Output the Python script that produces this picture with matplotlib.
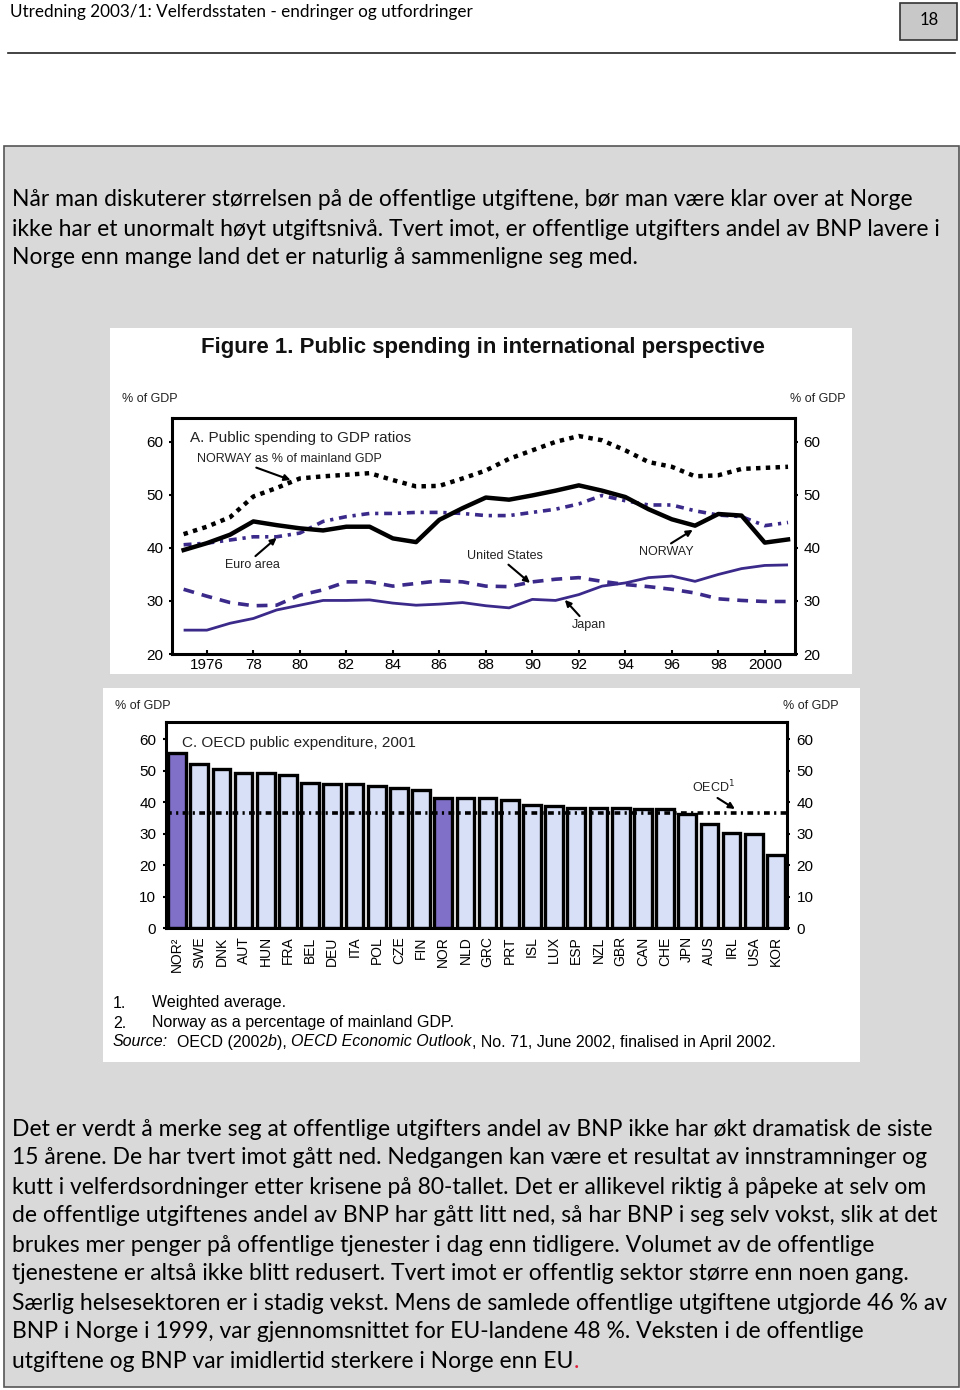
import numpy as np
import matplotlib
matplotlib.use('Agg')
import matplotlib.pyplot as plt
from matplotlib.patches import Rectangle

plt.rcParams['font.family'] = ['Liberation Sans', 'DejaVu Sans']

# --- data: panel A, public spending to GDP ratios (% of GDP) ---
years = list(range(1975, 2002))
norway_mainland = [42.6, 44.0, 45.8, 49.7, 51.3, 53.1, 53.5, 53.8, 54.1, 52.8, 51.6, 51.7, 53.1,
                   54.6, 56.8, 58.4, 60.0, 61.1, 60.3, 58.4, 56.2, 55.3, 53.5, 53.7, 54.9, 55.1, 55.3]
norway = [39.6, 40.9, 42.5, 45.0, 44.3, 43.7, 43.3, 44.0, 44.0, 41.8, 41.1, 45.3, 47.5,
          49.5, 49.1, 49.9, 50.8, 51.8, 50.8, 49.6, 47.3, 45.4, 44.2, 46.4, 46.1, 41.0, 41.6]
euro_area = [40.6, 40.9, 41.5, 42.1, 42.1, 42.8, 45.0, 45.9, 46.5, 46.5, 46.7, 46.7, 46.5,
             46.1, 46.1, 46.7, 47.3, 48.3, 49.9, 48.9, 48.1, 48.1, 47.0, 46.2, 45.9, 44.2, 44.8]
united_states = [32.2, 30.9, 29.7, 29.1, 29.2, 31.1, 32.1, 33.6, 33.6, 32.8, 33.3, 33.8, 33.6,
                 32.8, 32.7, 33.6, 34.1, 34.4, 33.7, 33.1, 32.7, 32.2, 31.5, 30.4, 30.1, 29.9, 29.9]
japan = [24.5, 24.5, 25.8, 26.7, 28.3, 29.2, 30.1, 30.1, 30.2, 29.6, 29.2, 29.4, 29.7,
         29.1, 28.7, 30.3, 30.1, 31.2, 32.8, 33.4, 34.4, 34.7, 33.7, 35.0, 36.1, 36.7, 36.8]
year_ticks = list(range(1976, 2001, 2))
year_labels = ['1976', '78', '80', '82', '84', '86', '88', '90', '92', '94', '96', '98', '2000']

# --- data: panel C, OECD public expenditure 2001 (% of GDP) ---
countries = ['NOR²', 'SWE', 'DNK', 'AUT', 'HUN', 'FRA', 'BEL', 'DEU', 'ITA', 'POL', 'CZE', 'FIN',
             'NOR', 'NLD', 'GRC', 'PRT', 'ISL', 'LUX', 'ESP', 'NZL', 'GBR', 'CAN', 'CHE', 'JPN',
             'AUS', 'IRL', 'USA', 'KOR']
spending = [55.5, 52.0, 50.4, 49.1, 49.1, 48.5, 46.1, 45.6, 45.6, 45.1, 44.3, 43.9,
            41.2, 41.2, 41.2, 40.6, 39.0, 38.6, 38.2, 38.2, 38.0, 37.8, 37.8, 36.3,
            32.9, 30.3, 29.9, 23.1]
highlight = ['NOR²', 'NOR']
oecd_avg = 36.6

# --- page text ---
header = 'Utredning 2003/1: Velferdsstaten - endringer og utfordringer'
para1 = ['Når man diskuterer størrelsen på de offentlige utgiftene, bør man være klar over at Norge',
         'ikke har et unormalt høyt utgiftsnivå. Tvert imot, er offentlige utgifters andel av BNP lavere i',
         'Norge enn mange land det er naturlig å sammenligne seg med.']
para2 = ['Det er verdt å merke seg at offentlige utgifters andel av BNP ikke har økt dramatisk de siste',
         '15 årene. De har tvert imot gått ned. Nedgangen kan være et resultat av innstramninger og',
         'kutt i velferdsordninger etter krisene på 80-tallet. Det er allikevel riktig å påpeke at selv om',
         'de offentlige utgiftenes andel av BNP har gått litt ned, så har BNP i seg selv vokst, slik at det',
         'brukes mer penger på offentlige tjenester i dag enn tidligere. Volumet av de offentlige',
         'tjenestene er altså ikke blitt redusert. Tvert imot er offentlig sektor større enn noen gang.',
         'Særlig helsesektoren er i stadig vekst. Mens de samlede offentlige utgiftene utgjorde 46 % av',
         'BNP i Norge i 1999, var gjennomsnittet for EU-landene 48 %. Veksten i de offentlige',
         'utgiftene og BNP var imidlertid sterkere i Norge enn EU']

W, H = 960, 1390
PURPLE = '#3b2a8a'
BODY_FONT = 'Lato'
BODY_SIZE = 16.5


def fx(px):
    return px / W


def fy(py):
    return 1 - py / H


def box(x0, y0, x1, y1):
    return [fx(x0), fy(y1), (x1 - x0) / W, (y1 - y0) / H]


fig = plt.figure(figsize=(W / 100, H / 100), dpi=100)
fig.patch.set_facecolor('white')

# page header
fig.text(fx(10), fy(12), header, family=BODY_FONT, fontsize=12.3, va='center', ha='left')
fig.patches.append(Rectangle((fx(900), fy(40)), 57 / W, 37 / H, transform=fig.transFigure,
                             facecolor='#c8c8c8', edgecolor='#333333', lw=1.2))
fig.text(fx(929), fy(20), '18', family=BODY_FONT, fontsize=12, va='center', ha='center')
fig.lines.append(plt.Line2D([fx(8), fx(955)], [fy(53), fy(53)], transform=fig.transFigure,
                            color='#222222', lw=1.2))

# grey frame and white figure panels (behind the axes)
fig.patches.append(Rectangle((fx(4), fy(1387)), 955 / W, 1241 / H, transform=fig.transFigure,
                             facecolor='#d9d9d9', edgecolor='#555555', lw=1.2, zorder=-3))
fig.patches.append(Rectangle((fx(110), fy(674)), 742 / W, 346 / H, transform=fig.transFigure,
                             facecolor='white', edgecolor='none', zorder=-2))
fig.patches.append(Rectangle((fx(103), fy(1062)), 757 / W, 374 / H, transform=fig.transFigure,
                             facecolor='white', edgecolor='none', zorder=-2))

for i, line in enumerate(para1):
    fig.text(fx(12), fy(200 + 29 * i), line, family=BODY_FONT, fontsize=BODY_SIZE, va='center')
last = None
for i, line in enumerate(para2):
    last = fig.text(fx(12), fy(1129 + 29 * i), line, family=BODY_FONT, fontsize=BODY_SIZE,
                    va='center')

fig.text(fx(483), fy(348), 'Figure 1. Public spending in international perspective',
         fontsize=16, fontweight='bold', ha='center', va='center', color='#111111')

# ---------------- panel A ----------------
ax = fig.add_axes(box(172, 418, 795, 654))
ax.patch.set_alpha(0)
ax.plot(years, japan, color=PURPLE, lw=2.0, solid_capstyle='butt')
ax.plot(years, united_states, color=PURPLE, lw=2.6, linestyle=(0, (3.0, 2.2)))
ax.plot(years, euro_area, color=PURPLE, lw=2.6, linestyle=(0, (2.2, 1.6, 0.9, 1.6)))
ax.plot(years, norway, color='black', lw=3.2)
ax.plot(years, norway_mainland, color='black', lw=3.2, linestyle=(0, (1.0, 1.2)))
ax.set_xlim(1974.5, 2001.3)
ax.set_ylim(20, 64.5)
ax.set_xticks(year_ticks)
ax.set_xticklabels(year_labels)
ax.set_yticks([20, 30, 40, 50, 60])
ax.tick_params(axis='x', direction='in', length=3, width=1.5, labelsize=11, pad=3)
ax.tick_params(axis='y', direction='out', length=2, width=1.5, labelsize=11, pad=4,
               right=True, labelright=True)
for s in ax.spines.values():
    s.set_linewidth(2.2)

arrow = dict(arrowstyle='-|>', color='black', lw=1.5, mutation_scale=9, shrinkA=0, shrinkB=0)
ax.text(1975.27, 60.75, 'A. Public spending to GDP ratios', fontsize=11, va='center', color='#222222')
ax.annotate('NORWAY as % of mainland GDP', xy=(1979.6, 52.8), xytext=(1975.57, 56.8),
            fontsize=9, va='center', color='#222222', arrowprops=dict(arrow, relpos=(0.28, 0)))
ax.annotate('Euro area', xy=(1979.0, 41.9), xytext=(1976.77, 36.8), fontsize=9, va='center',
            color='#222222', arrowprops=dict(arrow, relpos=(0.5, 1)))
ax.annotate('United States', xy=(1989.9, 33.4), xytext=(1987.2, 38.5), fontsize=9, va='center',
            color='#222222', arrowprops=dict(arrow, relpos=(0.5, 0)))
ax.annotate('NORWAY', xy=(1996.9, 43.4), xytext=(1994.6, 39.2), fontsize=9, va='center',
            color='#222222', arrowprops=dict(arrow, relpos=(0.5, 1)))
ax.annotate('Japan', xy=(1991.4, 30.2), xytext=(1991.7, 25.5), fontsize=9, va='center',
            color='#222222', arrowprops=dict(arrow, relpos=(0.3, 1)))
fig.text(fx(150), fy(399), '% of GDP', fontsize=9, ha='center', va='center', color='#222222')
fig.text(fx(818), fy(399), '% of GDP', fontsize=9, ha='center', va='center', color='#222222')

# ---------------- panel C ----------------
bx = fig.add_axes(box(166, 722, 787, 928))
bx.patch.set_alpha(0)
x = np.arange(len(countries))
colors = ['#8070c8' if c in highlight else '#d8e0f8' for c in countries]
bx.bar(x, spending, width=0.8, color=colors, edgecolor='black', linewidth=2.4, zorder=2)
bx.axhline(oecd_avg, color='black', lw=2.6, linestyle=(0, (1.6, 1.2, 0.6, 1.2)), zorder=3)
bx.set_xlim(-0.5, 27.5)
bx.set_ylim(0, 65.4)
bx.set_xticks(x)
bx.set_xticklabels(countries, rotation=90, fontsize=10)
bx.set_yticks(range(0, 61, 10))
bx.tick_params(axis='x', length=0, pad=6)
bx.tick_params(axis='y', direction='out', length=2, width=1.5, labelsize=11, pad=5,
               right=True, labelright=True)
for s in bx.spines.values():
    s.set_linewidth(2.2)
bx.text(0.22, 58.7, 'C. OECD public expenditure, 2001', fontsize=11, va='center', color='#222222')
bx.annotate('OECD$^1$', xy=(25.15, 37.8), xytext=(23.2, 44.8), fontsize=9, va='center',
            color='#222222', arrowprops=dict(arrow, relpos=(0.5, 0)))
fig.text(fx(143), fy(706), '% of GDP', fontsize=9, ha='center', va='center', color='#222222')
fig.text(fx(811), fy(706), '% of GDP', fontsize=9, ha='center', va='center', color='#222222')

# footnotes
fig.text(fx(113), fy(1003), '1.', fontsize=11.5, va='center')
fig.text(fx(152), fy(1003), 'Weighted average.', fontsize=11.5, va='center')
fig.text(fx(113), fy(1023), '2.', fontsize=11.5, va='center')
fig.text(fx(152), fy(1023), 'Norway as a percentage of mainland GDP.', fontsize=11.5, va='center')

renderer = fig.canvas.get_renderer()
source_parts = [('Source:', 'italic'), ('  OECD (2002', 'normal'), ('b', 'italic'), ('), ', 'normal'),
                ('OECD Economic Outlook', 'italic'),
                (', No. 71, June 2002, finalised in April 2002.', 'normal')]
xpos = fx(113)
for txt, style in source_parts:
    t = fig.text(xpos, fy(1042), txt, fontsize=11.5, style=style, va='center')
    xpos += t.get_window_extent(renderer).width / W

# red full stop after the last body line
bb = last.get_window_extent(renderer)
fig.text(bb.x1 / W, fy(1361), '.', family=BODY_FONT, fontsize=BODY_SIZE, va='center',
         color='#e0203a')

fig.savefig('out.png', dpi=100)
